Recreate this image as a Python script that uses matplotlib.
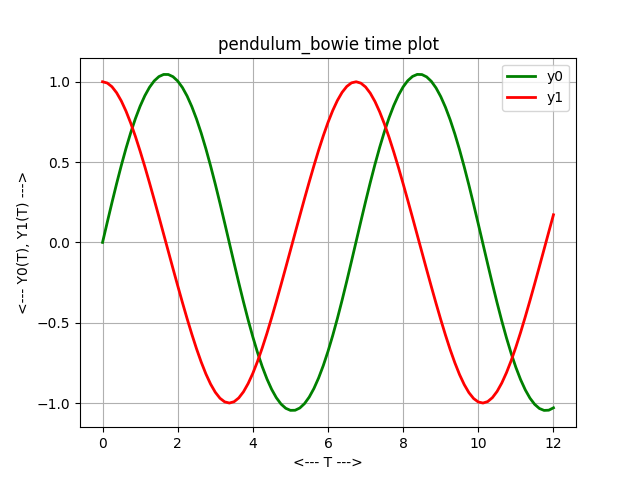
import matplotlib
matplotlib.use("Agg")
import matplotlib.pyplot as plt

t = [0.0, 0.125, 0.25, 0.375, 0.5, 0.625, 0.75, 0.875, 1.0, 1.125, 1.25,
     1.375, 1.5, 1.625, 1.75, 1.875, 2.0, 2.125, 2.25, 2.375, 2.5, 2.625,
     2.75, 2.875, 3.0, 3.125, 3.25, 3.375, 3.5, 3.625, 3.75, 3.875, 4.0,
     4.125, 4.25, 4.375, 4.5, 4.625, 4.75, 4.875, 5.0, 5.125, 5.25, 5.375,
     5.5, 5.625, 5.75, 5.875, 6.0, 6.125, 6.25, 6.375, 6.5, 6.625, 6.75,
     6.875, 7.0, 7.125, 7.25, 7.375, 7.5, 7.625, 7.75, 7.875, 8.0, 8.125,
     8.25, 8.375, 8.5, 8.625, 8.75, 8.875, 9.0, 9.125, 9.25, 9.375, 9.5,
     9.625, 9.75, 9.875, 10.0, 10.125, 10.25, 10.375, 10.5, 10.625, 10.75,
     10.875, 11.0, 11.125, 11.25, 11.375, 11.5, 11.625, 11.75, 11.875, 12.0]

y0 = [0.0000, 0.1247, 0.2474, 0.3664, 0.4797, 0.5859, 0.6834, 0.7711,
      0.8479, 0.9129, 0.9656, 1.0054, 1.0321, 1.0454, 1.0452, 1.0315,
      1.0045, 0.9643, 0.9112, 0.8458, 0.7688, 0.6808, 0.5830, 0.4766,
      0.3631, 0.2440, 0.1212, -0.0035, -0.1282, -0.2509, -0.3696, -0.4828,
      -0.5888, -0.6861, -0.7733, -0.8498, -0.9146, -0.9669, -1.0063,
      -1.0326, -1.0455, -1.0449, -1.0309, -1.0035, -0.9630, -0.9096,
      -0.8439, -0.7665, -0.6782, -0.5801, -0.4735, -0.3598, -0.2406,
      -0.1177, 0.0070, 0.1316, 0.2542, 0.3729, 0.4859, 0.5916, 0.6886,
      0.7757, 0.8519, 0.9162, 0.9682, 1.0073, 1.0332, 1.0458, 1.0448,
      1.0304, 1.0026, 0.9617, 0.9079, 0.8418, 0.7642, 0.6756, 0.5773,
      0.4704, 0.3566, 0.2372, 0.1143, -0.0105, -0.1351, -0.2577, -0.3761,
      -0.4889, -0.5945, -0.6913, -0.7779, -0.8538, -0.9179, -0.9695,
      -1.0081, -1.0337, -1.0458, -1.0445, -1.0297]

y1 = [1.0000, 0.9922, 0.9692, 0.9314, 0.8802, 0.8167, 0.7424, 0.6592,
      0.5682, 0.4718, 0.3705, 0.2663, 0.1600, 0.0522, -0.0555, -0.1633,
      -0.2693, -0.3735, -0.4744, -0.5707, -0.6614, -0.7444, -0.8186,
      -0.8818, -0.9327, -0.9701, -0.9926, -0.9999, -0.9918, -0.9682,
      -0.9302, -0.8785, -0.8147, -0.7403, -0.6567, -0.5660, -0.4688,
      -0.3677, -0.2634, -0.1569, -0.0494, 0.0588, 0.1660, 0.2724, 0.3763,
      0.4770, 0.5735, 0.6637, 0.7468, 0.8204, 0.8834, 0.9340, 0.9709,
      0.9932, 1.0000, 0.9913, 0.9675, 0.9289, 0.8770, 0.8128, 0.7380,
      0.6543, 0.5630, 0.4663, 0.3647, 0.2604, 0.1540, 0.0461, -0.0616,
      -0.1693, -0.2752, -0.3792, -0.4799, -0.5759, -0.6663, -0.7488,
      -0.8225, -0.8850, -0.9352, -0.9718, -0.9934, -0.9999, -0.9909,
      -0.9665, -0.9277, -0.8753, -0.8108, -0.7359, -0.6518, -0.5607,
      -0.4633, -0.3619, -0.2575, -0.1509, -0.0433, 0.0649, 0.1720]

fig, ax = plt.subplots(figsize=(6.4, 4.8), dpi=100)
ax.plot(t, y0, color="green", linewidth=2, label="y0")
ax.plot(t, y1, color="red", linewidth=2, label="y1")
ax.grid(True)
ax.set_title("pendulum_bowie time plot")
ax.set_xlabel("<--- T --->")
ax.set_ylabel("<--- Y0(T), Y1(T) --->")
ax.legend(loc="upper right")
fig.savefig("out.png", dpi=100)
